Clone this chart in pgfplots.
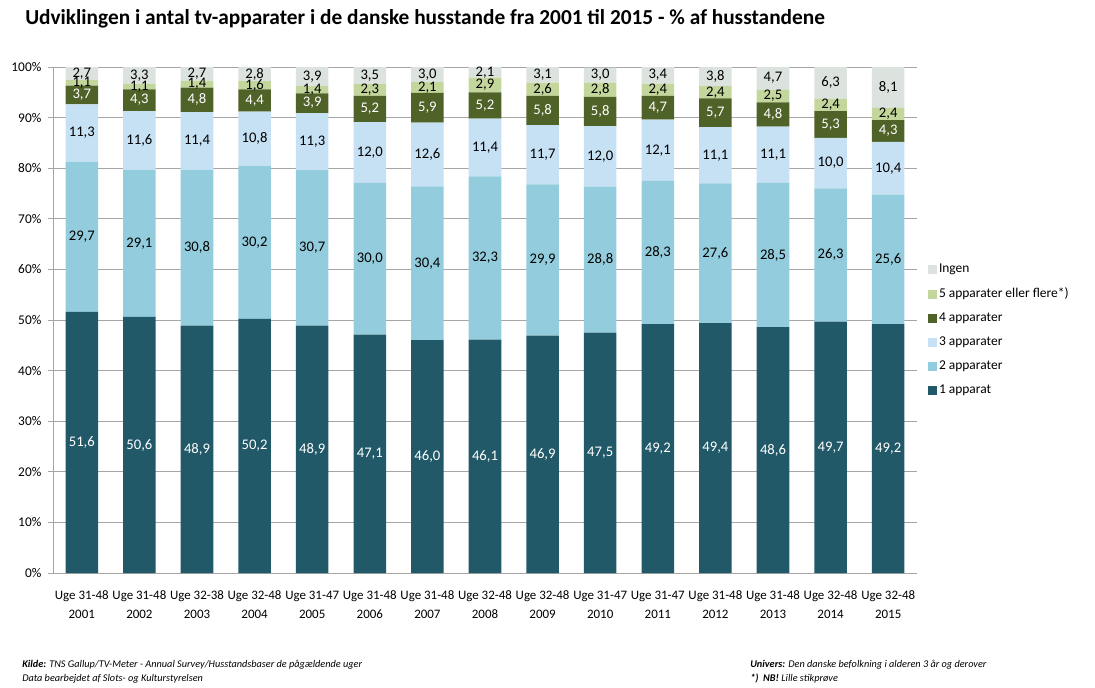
\documentclass[border=0pt]{standalone}
\usepackage{pgfplots}
\usepackage{pgfplotstable}
\pgfplotsset{compat=1.18}
\usepackage{fontspec}
\setmainfont{Carlito}
\definecolor{cOne}{HTML}{215968}
\definecolor{cTwo}{HTML}{93CDDD}
\definecolor{cThree}{HTML}{C6E0F4}
\definecolor{cFour}{HTML}{4F6228}
\definecolor{cFive}{HTML}{C3D69B}
\definecolor{cIngen}{HTML}{DCE3DF}
\definecolor{gridgray}{HTML}{A6A6A6}
\pgfplotstableread{
x one two three four five ingen
0 51.6 29.7 11.3 3.7 1.1 2.7
1 50.6 29.1 11.6 4.3 1.1 3.3
2 48.9 30.8 11.4 4.8 1.4 2.7
3 50.2 30.2 10.8 4.4 1.6 2.8
4 48.9 30.7 11.3 3.9 1.4 3.9
5 47.1 30.0 12.0 5.2 2.3 3.5
6 46.0 30.4 12.6 5.9 2.1 3.0
7 46.1 32.3 11.4 5.2 2.9 2.1
8 46.9 29.9 11.7 5.8 2.6 3.1
9 47.5 28.8 12.0 5.8 2.8 3.0
10 49.2 28.3 12.1 4.7 2.4 3.4
11 49.4 27.6 11.1 5.7 2.4 3.8
12 48.6 28.5 11.1 4.8 2.5 4.7
13 49.7 26.3 10.0 5.3 2.4 6.3
14 49.2 25.6 10.4 4.3 2.4 8.1
}\data
\pgfplotsset{
  common/.style={at={(0,0)}, anchor=south west,
    scale only axis, width=648pt, height=379.5pt,
    xmin=-0.5, xmax=14.5, ymin=0, ymax=100},
  lbl/.style={draw=none, mark=none, forget plot,
    nodes near coords={\pgfmathprintnumber[use comma, fixed, fixed zerofill, precision=1]{\pgfplotspointmeta}},
    every node near coord/.style={anchor=center, inner sep=0pt, font=\fontsize{11}{12}\selectfont, text=#1}},
}
\begin{document}
\begin{tikzpicture}
\useasboundingbox (-39.75pt,-85.5pt) rectangle (781.5pt,429.75pt);
\begin{axis}[
  common,
  ybar stacked, bar width=24.4pt,
  axis x line*=bottom, axis y line*=left,
  axis line style={gridgray, -},
  xtick=data,
  xticklabels={{Uge 31-48\\2001},{Uge 31-48\\2002},{Uge 32-38\\2003},{Uge 32-48\\2004},{Uge 31-47\\2005},{Uge 31-48\\2006},{Uge 31-48\\2007},{Uge 32-48\\2008},{Uge 32-48\\2009},{Uge 31-47\\2010},{Uge 31-47\\2011},{Uge 31-48\\2012},{Uge 31-48\\2013},{Uge 32-48\\2014},{Uge 32-48\\2015}},
  x tick label style={align=center, font=\fontsize{9.7}{14.25}\selectfont, yshift=-6pt},
  major x tick style={draw=none},
  ytick={0,10,...,100},
  yticklabel={\pgfmathprintnumber{\tick}\%},
  y tick label style={font=\fontsize{10}{11}\selectfont, xshift=-1.5pt},
  /pgf/number format/assume math mode=true,
  ymajorgrids, grid style={gridgray, line width=0.6pt},
  major y tick style={gridgray, line width=0.6pt},
  tick align=outside, major tick length=3.75pt,
  every axis plot/.append style={draw=none},
  reverse legend,
  legend style={draw=none, fill=none, at={(656pt,233.25pt)}, anchor=north west, font=\fontsize{10.1}{12}\selectfont, row sep=6.9pt, inner sep=0pt, nodes={inner sep=1.5pt}},
  legend cell align=left,
  legend image code/.code={\fill[#1] (0pt,-3.4pt) rectangle (6.8pt,3.4pt);},
]
\addplot[fill=cOne] table[x=x, y=one] {\data};
\addlegendentry{1 apparat}
\addplot[fill=cTwo] table[x=x, y=two] {\data};
\addlegendentry{2 apparater}
\addplot[fill=cThree] table[x=x, y=three] {\data};
\addlegendentry{3 apparater}
\addplot[fill=cFour] table[x=x, y=four] {\data};
\addlegendentry{4 apparater}
\addplot[fill=cFive] table[x=x, y=five] {\data};
\addlegendentry{5 apparater eller flere*)}
\addplot[fill=cIngen] table[x=x, y=ingen] {\data};
\addlegendentry{Ingen}
\end{axis}
\begin{axis}[common, hide axis, clip=false, /pgf/number format/assume math mode=true]
\addplot[lbl=white, point meta=\thisrow{one}] table[x=x, y expr=\thisrow{one}/2] {\data};
\addplot[lbl=black, point meta=\thisrow{two}] table[x=x, y expr=\thisrow{one}+\thisrow{two}/2] {\data};
\addplot[lbl=black, point meta=\thisrow{three}] table[x=x, y expr=\thisrow{one}+\thisrow{two}+\thisrow{three}/2] {\data};
\addplot[lbl=white, point meta=\thisrow{four}] table[x=x, y expr=\thisrow{one}+\thisrow{two}+\thisrow{three}+\thisrow{four}/2] {\data};
\addplot[lbl=black, point meta=\thisrow{five}] table[x=x, y expr=\thisrow{one}+\thisrow{two}+\thisrow{three}+\thisrow{four}+\thisrow{five}/2] {\data};
\addplot[lbl=black, point meta=\thisrow{ingen}] table[x=x, y expr=\thisrow{one}+\thisrow{two}+\thisrow{three}+\thisrow{four}+\thisrow{five}+\thisrow{ingen}/2] {\data};
\end{axis}
\node[anchor=base west, inner sep=0pt, font=\fontsize{16}{18}\selectfont\bfseries] at (-21pt,411pt) {Udviklingen i antal tv-apparater i de danske husstande fra 2001 til 2015 - \% af husstandene};
\node[anchor=base west, inner sep=0pt, font=\fontsize{7.7}{9}\selectfont\itshape] at (-23.25pt,-70.5pt) {\textbf{Kilde:} TNS Gallup/TV-Meter - Annual Survey/Husstandsbaser de pågældende uger};
\node[anchor=base west, inner sep=0pt, font=\fontsize{7.7}{9}\selectfont\itshape] at (-23.25pt,-81pt) {Data bearbejdet af Slots- og Kulturstyrelsen};
\node[anchor=base west, inner sep=0pt, font=\fontsize{7.7}{9}\selectfont\itshape] at (522.75pt,-70.5pt) {\textbf{Univers:} Den danske befolkning i alderen 3 år og derover};
\node[anchor=base west, inner sep=0pt, font=\fontsize{7.7}{9}\selectfont\itshape] at (522.75pt,-81pt) {\textbf{*)\ \ NB!} Lille stikprøve};
\end{tikzpicture}
\end{document}
